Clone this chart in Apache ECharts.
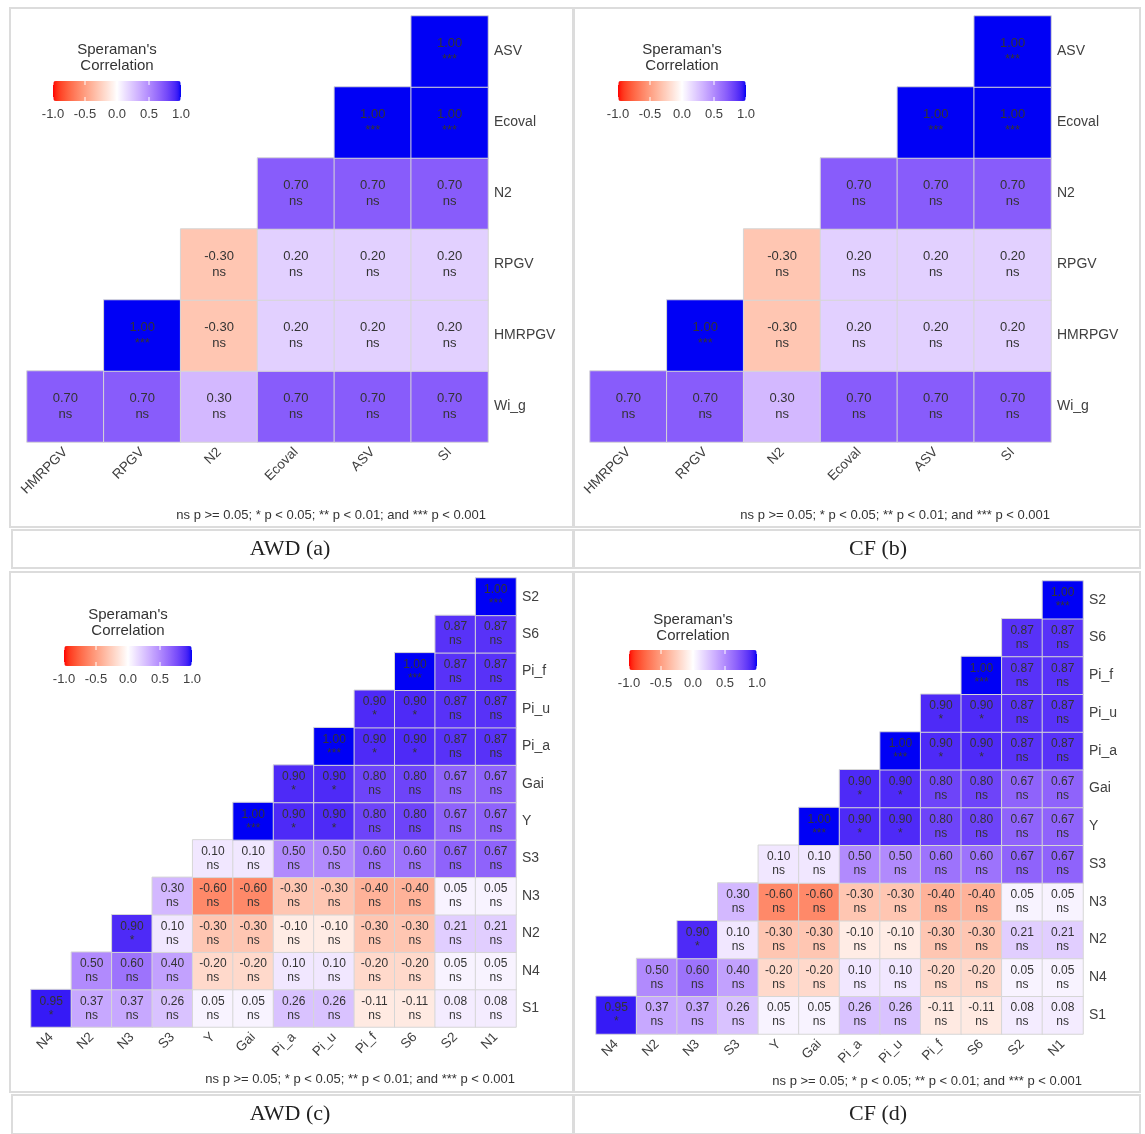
<!DOCTYPE html>
<html>
<head>
<meta charset="utf-8">
<title>Spearman correlation - AWD / CF</title>
<script src="https://cdn.jsdelivr.net/npm/echarts@6/dist/echarts.min.js"></script>
<style>
  html, body { margin: 0; padding: 0; background: #fff; }
  #main { width: 1145px; height: 1134px; }
</style>
</head>
<body>
<div id="main"></div>
<script>
// ---------- data ----------
// panels (a)/(b): columns left->right, rows bottom->top, row i starts at column i
var xTraits = ['HMRPGV', 'RPGV', 'N2', 'Ecoval', 'ASV', 'SI'];
var yTraits = ['Wi_g', 'HMRPGV', 'RPGV', 'N2', 'Ecoval', 'ASV'];

var awdTraitR = [
  [0.70, 0.70, 0.30, 0.70, 0.70, 0.70],
  [1.00, -0.30, 0.20, 0.20, 0.20],
  [-0.30, 0.20, 0.20, 0.20],
  [0.70, 0.70, 0.70],
  [1.00, 1.00],
  [1.00]
];
var awdTraitSig = [
  ['ns', 'ns', 'ns', 'ns', 'ns', 'ns'],
  ['***', 'ns', 'ns', 'ns', 'ns'],
  ['ns', 'ns', 'ns', 'ns'],
  ['ns', 'ns', 'ns'],
  ['***', '***'],
  ['***']
];
var cfTraitR = [
  [0.70, 0.70, 0.30, 0.70, 0.70, 0.70],
  [1.00, -0.30, 0.20, 0.20, 0.20],
  [-0.30, 0.20, 0.20, 0.20],
  [0.70, 0.70, 0.70],
  [1.00, 1.00],
  [1.00]
];
var cfTraitSig = [
  ['ns', 'ns', 'ns', 'ns', 'ns', 'ns'],
  ['***', 'ns', 'ns', 'ns', 'ns'],
  ['ns', 'ns', 'ns', 'ns'],
  ['ns', 'ns', 'ns'],
  ['***', '***'],
  ['***']
];

// panels (c)/(d)
var xYield = ['N4', 'N2', 'N3', 'S3', 'Y', 'Gai', 'Pi_a', 'Pi_u', 'Pi_f', 'S6', 'S2', 'N1'];
var yYield = ['S1', 'N4', 'N2', 'N3', 'S3', 'Y', 'Gai', 'Pi_a', 'Pi_u', 'Pi_f', 'S6', 'S2'];

var awdYieldR = [
  [0.95, 0.37, 0.37, 0.26, 0.05, 0.05, 0.26, 0.26, -0.11, -0.11, 0.08, 0.08],
  [0.50, 0.60, 0.40, -0.20, -0.20, 0.10, 0.10, -0.20, -0.20, 0.05, 0.05],
  [0.90, 0.10, -0.30, -0.30, -0.10, -0.10, -0.30, -0.30, 0.21, 0.21],
  [0.30, -0.60, -0.60, -0.30, -0.30, -0.40, -0.40, 0.05, 0.05],
  [0.10, 0.10, 0.50, 0.50, 0.60, 0.60, 0.67, 0.67],
  [1.00, 0.90, 0.90, 0.80, 0.80, 0.67, 0.67],
  [0.90, 0.90, 0.80, 0.80, 0.67, 0.67],
  [1.00, 0.90, 0.90, 0.87, 0.87],
  [0.90, 0.90, 0.87, 0.87],
  [1.00, 0.87, 0.87],
  [0.87, 0.87],
  [1.00]
];
var awdYieldSig = [
  ['*', 'ns', 'ns', 'ns', 'ns', 'ns', 'ns', 'ns', 'ns', 'ns', 'ns', 'ns'],
  ['ns', 'ns', 'ns', 'ns', 'ns', 'ns', 'ns', 'ns', 'ns', 'ns', 'ns'],
  ['*', 'ns', 'ns', 'ns', 'ns', 'ns', 'ns', 'ns', 'ns', 'ns'],
  ['ns', 'ns', 'ns', 'ns', 'ns', 'ns', 'ns', 'ns', 'ns'],
  ['ns', 'ns', 'ns', 'ns', 'ns', 'ns', 'ns', 'ns'],
  ['***', '*', '*', 'ns', 'ns', 'ns', 'ns'],
  ['*', '*', 'ns', 'ns', 'ns', 'ns'],
  ['***', '*', '*', 'ns', 'ns'],
  ['*', '*', 'ns', 'ns'],
  ['***', 'ns', 'ns'],
  ['ns', 'ns'],
  ['***']
];
var cfYieldR = [
  [0.95, 0.37, 0.37, 0.26, 0.05, 0.05, 0.26, 0.26, -0.11, -0.11, 0.08, 0.08],
  [0.50, 0.60, 0.40, -0.20, -0.20, 0.10, 0.10, -0.20, -0.20, 0.05, 0.05],
  [0.90, 0.10, -0.30, -0.30, -0.10, -0.10, -0.30, -0.30, 0.21, 0.21],
  [0.30, -0.60, -0.60, -0.30, -0.30, -0.40, -0.40, 0.05, 0.05],
  [0.10, 0.10, 0.50, 0.50, 0.60, 0.60, 0.67, 0.67],
  [1.00, 0.90, 0.90, 0.80, 0.80, 0.67, 0.67],
  [0.90, 0.90, 0.80, 0.80, 0.67, 0.67],
  [1.00, 0.90, 0.90, 0.87, 0.87],
  [0.90, 0.90, 0.87, 0.87],
  [1.00, 0.87, 0.87],
  [0.87, 0.87],
  [1.00]
];
var cfYieldSig = awdYieldSig.map(function (r) { return r.slice(); });

var legendTicks = [-1.0, -0.5, 0.0, 0.5, 1.0];
var footnote = 'ns p >= 0.05; * p < 0.05; ** p < 0.01; and *** p < 0.001';

// ---------- colour scale: red - white - blue, mixed in Lab like ggplot ----------
function toLin(c) { c /= 255; return c <= 0.04045 ? c / 12.92 : Math.pow((c + 0.055) / 1.055, 2.4); }
function toS(c) { c = Math.max(0, Math.min(1, c)); return Math.round(255 * (c <= 0.0031308 ? 12.92 * c : 1.055 * Math.pow(c, 1 / 2.4) - 0.055)); }
function f(t) { return t > 0.008856 ? Math.cbrt(t) : 7.787 * t + 16 / 116; }
function fi(t) { var t3 = t * t * t; return t3 > 0.008856 ? t3 : (t - 16 / 116) / 7.787; }
function lab(rgb) {
  var r = toLin(rgb[0]), g = toLin(rgb[1]), b = toLin(rgb[2]);
  var X = (0.4124 * r + 0.3576 * g + 0.1805 * b) / 0.95047;
  var Y = 0.2126 * r + 0.7152 * g + 0.0722 * b;
  var Z = (0.0193 * r + 0.1192 * g + 0.9505 * b) / 1.08883;
  return [116 * f(Y) - 16, 500 * (f(X) - f(Y)), 200 * (f(Y) - f(Z))];
}
function rgbFromLab(L) {
  var fy = (L[0] + 16) / 116, fx = fy + L[1] / 500, fz = fy - L[2] / 200;
  var X = 0.95047 * fi(fx), Y = fi(fy), Z = 1.08883 * fi(fz);
  var r = 3.2406 * X - 1.5372 * Y - 0.4986 * Z;
  var g = -0.9689 * X + 1.8758 * Y + 0.0415 * Z;
  var b = 0.0557 * X - 0.2040 * Y + 1.0570 * Z;
  return 'rgb(' + toS(r) + ',' + toS(g) + ',' + toS(b) + ')';
}
var W = lab([255, 255, 255]), RED = lab([255, 0, 0]), BLUE = lab([0, 0, 245]);
var colorStops = [];
for (var k = -20; k <= 20; k++) {
  var v = k / 20, end = v < 0 ? RED : BLUE, t = Math.abs(v);
  colorStops.push(rgbFromLab([W[0] + (end[0] - W[0]) * t, W[1] + (end[1] - W[1]) * t, W[2] + (end[2] - W[2]) * t]));
}

// ---------- layout ----------
var SANS = "'Liberation Sans', Arial, sans-serif";
var panels = [
  { x: xTraits, y: yTraits, r: awdTraitR, s: awdTraitSig, grid: { left: 27, top: 16, width: 461, height: 426 },
    fs: 13, lh: 16, bar: [53, 81], title: 50, foot: [486, 515] },
  { x: xTraits, y: yTraits, r: cfTraitR, s: cfTraitSig, grid: { left: 590, top: 16, width: 461, height: 426 },
    fs: 13, lh: 16, bar: [618, 81], title: 50, foot: [1050, 515] },
  { x: xYield, y: yYield, r: awdYieldR, s: awdYieldSig, grid: { left: 31, top: 578, width: 485, height: 449 },
    fs: 12, lh: 14, bar: [64, 646], title: 615, foot: [515, 1079] },
  { x: xYield, y: yYield, r: cfYieldR, s: cfYieldSig, grid: { left: 596, top: 581, width: 487, height: 453 },
    fs: 12, lh: 14, bar: [629, 650], title: 620, foot: [1082, 1081] }
];
var BAR_LEN = 128, BAR_W = 20;

function cells(rows, sigs) {
  var out = [];
  rows.forEach(function (row, i) {
    row.forEach(function (v, k) { out.push({ value: [i + k, i, v], sig: sigs[i][k] }); });
  });
  return out;
}

var grids = [], xAxes = [], yAxes = [], series = [], visualMaps = [], graphics = [];

// table frame (figure is laid out in a 2x2 table with caption rows)
var frameStyle = { fill: 'none', stroke: '#dcdcdc', lineWidth: 2 };
[[10, 8, 563, 519], [574, 8, 566, 519], [12, 530, 561, 38], [574, 530, 566, 38],
 [10, 572, 563, 520], [574, 572, 566, 520], [12, 1095, 561, 39], [574, 1095, 566, 39]].forEach(function (b) {
  graphics.push({ type: 'rect', shape: { x: b[0], y: b[1], width: b[2], height: b[3] }, style: frameStyle, silent: true });
});
[['AWD (a)', 290, 549], ['CF (b)', 878, 549], ['AWD (c)', 290, 1114], ['CF (d)', 878, 1114]].forEach(function (c) {
  graphics.push({ type: 'text', style: { text: c[0], x: c[1], y: c[2], align: 'center', verticalAlign: 'middle',
    font: "22px 'Liberation Serif', 'Times New Roman', serif", fill: '#222' }, silent: true });
});

panels.forEach(function (p, i) {
  grids.push(p.grid);
  xAxes.push({
    type: 'category', gridIndex: i, data: p.x, position: 'bottom',
    axisLine: { show: false }, axisTick: { show: false }, splitLine: { show: false },
    axisLabel: { rotate: 45, interval: 0, margin: 8, fontSize: 13.5, color: '#404040', fontFamily: SANS }
  });
  yAxes.push({
    type: 'category', gridIndex: i, data: p.y, position: 'right',
    axisLine: { show: false }, axisTick: { show: false }, splitLine: { show: false },
    axisLabel: { interval: 0, margin: 6, fontSize: 14, color: '#404040', fontFamily: SANS }
  });
  series.push({
    type: 'heatmap', xAxisIndex: i, yAxisIndex: i, data: cells(p.r, p.s),
    itemStyle: { borderColor: '#d6d6d6', borderWidth: 1 },
    emphasis: { disabled: true },
    label: {
      show: true, fontSize: p.fs, lineHeight: p.lh, color: '#333', fontFamily: SANS,
      formatter: function (q) { return q.value[2].toFixed(2) + '\n' + q.data.sig; }
    }
  });
  visualMaps.push({
    type: 'continuous', seriesIndex: i, min: -1, max: 1, orient: 'horizontal',
    left: p.bar[0], top: p.bar[1], itemWidth: BAR_W, itemHeight: BAR_LEN, padding: 0,
    calculable: false, hoverLink: false, inRange: { color: colorStops }
  });

  // legend title, ticks and tick labels
  var cx = p.bar[0] + BAR_LEN / 2;
  ["Speraman's", 'Correlation'].forEach(function (s, j) {
    graphics.push({ type: 'text', style: { text: s, x: cx, y: p.title + j * 16, align: 'center', verticalAlign: 'middle',
      font: '15px ' + SANS, fill: '#333' }, silent: true, z: 10 });
  });
  legendTicks.forEach(function (v) {
    var tx = p.bar[0] + (v + 1) / 2 * BAR_LEN;
    graphics.push({ type: 'line', shape: { x1: tx, y1: p.bar[1], x2: tx, y2: p.bar[1] + 4 }, style: { stroke: '#fff', lineWidth: 1 }, silent: true, z: 10 });
    graphics.push({ type: 'line', shape: { x1: tx, y1: p.bar[1] + BAR_W - 4, x2: tx, y2: p.bar[1] + BAR_W }, style: { stroke: '#fff', lineWidth: 1 }, silent: true, z: 10 });
    graphics.push({ type: 'text', style: { text: v.toFixed(1), x: tx, y: p.bar[1] + BAR_W + 13, align: 'center', verticalAlign: 'middle',
      font: '13px ' + SANS, fill: '#404040' }, silent: true, z: 10 });
  });
  graphics.push({ type: 'text', style: { text: footnote, x: p.foot[0], y: p.foot[1], align: 'right', verticalAlign: 'middle',
    font: '13px ' + SANS, fill: '#333' }, silent: true, z: 10 });
});

var myChart = echarts.init(document.getElementById('main'));
myChart.setOption({
  backgroundColor: '#fff',
  animation: false,
  grid: grids,
  xAxis: xAxes,
  yAxis: yAxes,
  visualMap: visualMaps,
  series: series,
  graphic: graphics
});
</script>
</body>
</html>
